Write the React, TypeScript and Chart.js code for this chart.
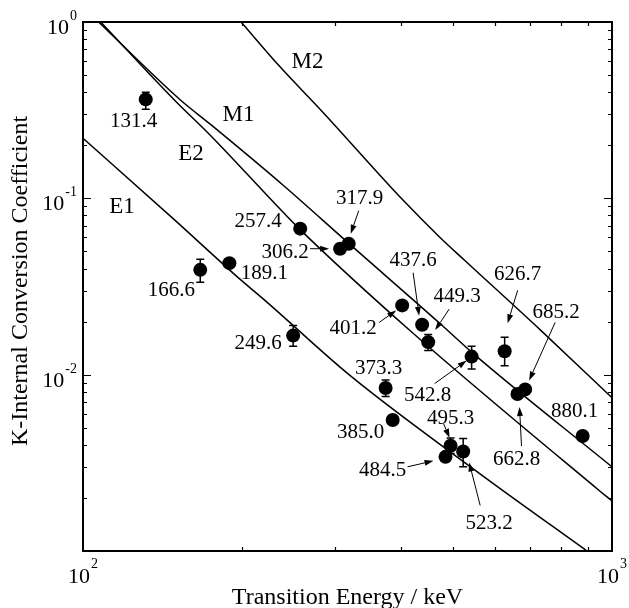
import React, { useEffect, useRef } from 'react';
import { Chart, registerables } from 'chart.js';

Chart.register(...registerables);

// ---------- measured data (K-internal conversion coefficients) ----------
const energies = [131.4, 166.6, 189.1, 249.6, 257.4, 306.2, 317.9, 373.3, 385.0, 401.2, 437.6, 449.3, 484.5, 495.3, 523.2, 542.8, 626.7, 662.8, 685.2, 880.1];
const alphaK = [0.364, 0.0393, 0.0429, 0.01666, 0.0673, 0.0518, 0.0553, 0.0084, 0.00553, 0.0247, 0.0192, 0.0153, 0.00342, 0.00395, 0.00367, 0.01266, 0.01357, 0.00777, 0.00825, 0.00449];
const errLow = [0.32, 0.0334, null, 0.0145, null, null, null, 0.00753, null, null, null, 0.0137, null, 0.00357, 0.0030, 0.01077, 0.01125, null, null, null];
const errHigh = [0.40, 0.0452, null, 0.019, null, null, null, 0.00933, null, null, null, 0.0169, null, 0.00437, 0.00434, 0.01448, 0.0163, null, null, null];
const pointLabels = ['131.4', '166.6', '189.1', '249.6', '257.4', '306.2', '317.9', '373.3', '385.0', '401.2', '437.6', '449.3', '484.5', '495.3', '523.2', '542.8', '626.7', '662.8', '685.2', '880.1'];

// ---------- theoretical curves ----------
const e1Energy = [100, 148.6, 198, 221, 320, 563, 897];
const e1Alpha = [0.219, 0.076, 0.0348, 0.0263, 0.00987, 0.00274, 0.001];
const e2Energy = [108, 149, 174, 239, 257, 415, 948, 1000];
const e2Alpha = [1.0, 0.36, 0.228, 0.0833, 0.0667, 0.0178, 0.00219, 0.00192];
const m1Energy = [107, 153, 174, 239, 318, 473, 544, 1000];
const m1Alpha = [1.0, 0.36, 0.2633, 0.1186, 0.0555, 0.0195, 0.01334, 0.003];
const m2Energy = [199, 236, 282.6, 403, 473, 527, 731, 1000];
const m2Alpha = [1.0, 0.555, 0.313, 0.0974, 0.06, 0.0444, 0.018, 0.0074];

const curveNames = ['E1', 'E2', 'M1', 'M2'];
const curveNameEnergy = [118.5, 160.0, 196.7, 265.7];
const curveNameAlpha = [0.0912, 0.183, 0.305, 0.608];

// ---------- axes ----------
const xTickValues = [100, 1000];
const xTickExponents = ['2', '3'];
const yTickValues = [1, 0.1, 0.01];
const yTickExponents = ['0', '-1', '-2'];
const xMinorTicks = [200, 300, 400, 500, 600, 700, 800, 900];
const yMajorTicks = [0.001, 0.01, 0.1, 1];
const yMinorMantissas = [2, 3, 4, 5, 6, 7, 8, 9];
const xTitle = 'Transition Energy / keV';
const yTitle = 'K-Internal Conversion Coefficient';

// ---------- label layout (pixel offsets of label centre / arrow from the point) ----------
const labelLayout: { dx: number; dy: number; arrow: number[] | null }[] = [
  { dx: -12, dy: 21, arrow: null },
  { dx: -29, dy: 19, arrow: null },
  { dx: 35, dy: 9, arrow: null },
  { dx: -35, dy: 6, arrow: null },
  { dx: -42, dy: -9, arrow: null },
  { dx: -55, dy: 2, arrow: [-30, 0, -11, 0] },
  { dx: 11, dy: -47, arrow: [10, -33, 2, -10] },
  { dx: -7, dy: -21, arrow: null },
  { dx: -32, dy: 11, arrow: null },
  { dx: -49, dy: 21, arrow: [-23, 17, -6, 5] },
  { dx: -9, dy: -66, arrow: [-9, -52, -3, -9] },
  { dx: 29, dy: -47, arrow: [21, -33, 7, -12] },
  { dx: -63, dy: 12, arrow: [-38, 10, -12, 4] },
  { dx: 0, dy: -29, arrow: [-7, -22, -1, -8] },
  { dx: 26, dy: 70, arrow: [17, 54, 6, 11] },
  { dx: -44, dy: 37, arrow: [-37, 27, -5, 4] },
  { dx: 13, dy: -78, arrow: [13, -61, 3, -28] },
  { dx: -1, dy: 64, arrow: [4, 52, 2, 13] },
  { dx: 31, dy: -78, arrow: [30, -67, 4, -9] },
  { dx: -8, dy: -26, arrow: null },
];

const FONT = '"Liberation Serif", "Times New Roman", Times, serif';

function pts(xs: number[], ys: number[]) {
  return xs.map((x, i) => ({ x, y: ys[i] }));
}

function drawArrow(ctx: CanvasRenderingContext2D, x1: number, y1: number, x2: number, y2: number) {
  const ang = Math.atan2(y2 - y1, x2 - x1);
  const head = 9;
  const hw = 3;
  const bx = x2 - head * Math.cos(ang);
  const by = y2 - head * Math.sin(ang);
  ctx.beginPath();
  ctx.moveTo(x1, y1);
  ctx.lineTo(bx, by);
  ctx.lineWidth = 1;
  ctx.stroke();
  ctx.beginPath();
  ctx.moveTo(x2, y2);
  ctx.lineTo(bx + hw * Math.sin(ang), by - hw * Math.cos(ang));
  ctx.lineTo(bx - hw * Math.sin(ang), by + hw * Math.cos(ang));
  ctx.closePath();
  ctx.fill();
}

const overlayPlugin = {
  id: 'overlay',
  beforeDatasetsDraw(chart: any) {
    const ctx: CanvasRenderingContext2D = chart.ctx;
    const xs = chart.scales.x;
    const ys = chart.scales.y;
    ctx.save();
    ctx.strokeStyle = '#000';
    ctx.lineWidth = 1.5;
    energies.forEach((e, i) => {
      const lo = errLow[i];
      const hi = errHigh[i];
      if (lo == null || hi == null) return;
      const px = xs.getPixelForValue(e);
      const pl = ys.getPixelForValue(lo);
      const ph = ys.getPixelForValue(hi);
      ctx.beginPath();
      ctx.moveTo(px, pl);
      ctx.lineTo(px, ph);
      ctx.moveTo(px - 4, pl);
      ctx.lineTo(px + 4, pl);
      ctx.moveTo(px - 4, ph);
      ctx.lineTo(px + 4, ph);
      ctx.stroke();
    });
    ctx.restore();
  },
  afterDraw(chart: any) {
    const ctx: CanvasRenderingContext2D = chart.ctx;
    const xs = chart.scales.x;
    const ys = chart.scales.y;
    const a = chart.chartArea;
    ctx.save();
    ctx.fillStyle = '#000';
    ctx.strokeStyle = '#000';

    // frame
    ctx.lineWidth = 2;
    ctx.strokeRect(a.left, a.top, a.right - a.left, a.bottom - a.top);

    // ticks (inside, mirrored)
    ctx.lineWidth = 1.2;
    ctx.beginPath();
    xMinorTicks.forEach((v) => {
      const p = Math.round(xs.getPixelForValue(v)) + 0.5;
      ctx.moveTo(p, a.bottom);
      ctx.lineTo(p, a.bottom - 4);
      ctx.moveTo(p, a.top);
      ctx.lineTo(p, a.top + 4);
    });
    yMajorTicks.forEach((v) => {
      const p = Math.round(ys.getPixelForValue(v)) + 0.5;
      ctx.moveTo(a.left, p);
      ctx.lineTo(a.left + 8, p);
      ctx.moveTo(a.right, p);
      ctx.lineTo(a.right - 8, p);
      if (v < 1) {
        yMinorMantissas.forEach((m) => {
          const q = Math.round(ys.getPixelForValue(v * m)) + 0.5;
          ctx.moveTo(a.left, q);
          ctx.lineTo(a.left + 4, q);
          ctx.moveTo(a.right, q);
          ctx.lineTo(a.right - 4, q);
        });
      }
    });
    ctx.stroke();

    // tick labels
    const baseFont = '22px ' + FONT;
    const supFont = '14px ' + FONT;
    ctx.textBaseline = 'alphabetic';
    ctx.textAlign = 'left';
    yTickValues.forEach((v, i) => {
      const p = ys.getPixelForValue(v);
      ctx.font = supFont;
      const wE = ctx.measureText(yTickExponents[i]).width;
      ctx.font = baseFont;
      const wB = ctx.measureText('10').width;
      const right = a.left - 6;
      ctx.fillText('10', right - wE - 1 - wB, p + 12);
      ctx.font = supFont;
      ctx.fillText(yTickExponents[i], right - wE, p - 2);
    });
    xTickValues.forEach((v, i) => {
      const p = xs.getPixelForValue(v);
      ctx.font = supFont;
      const wE = ctx.measureText(xTickExponents[i]).width;
      ctx.font = baseFont;
      const wB = ctx.measureText('10').width;
      const left = p - (wB + 1 + wE) / 2;
      ctx.fillText('10', left, a.bottom + 32);
      ctx.font = supFont;
      ctx.fillText(xTickExponents[i], left + wB + 1, a.bottom + 17);
    });

    // axis titles
    ctx.font = '24px ' + FONT;
    ctx.textAlign = 'center';
    ctx.fillText(xTitle, (a.left + a.right) / 2, 604);
    ctx.save();
    ctx.translate(27, 281);
    ctx.rotate(-Math.PI / 2);
    ctx.fillText(yTitle, 0, 0);
    ctx.restore();

    // curve names
    ctx.font = '23px ' + FONT;
    curveNames.forEach((n, i) => {
      const px = xs.getPixelForValue(curveNameEnergy[i]);
      const py = ys.getPixelForValue(curveNameAlpha[i]);
      ctx.fillText(n, px, py + 0.33 * 23);
    });

    // point labels + arrows
    ctx.font = '21px ' + FONT;
    energies.forEach((e, i) => {
      const px = xs.getPixelForValue(e);
      const py = ys.getPixelForValue(alphaK[i]);
      const L = labelLayout[i];
      ctx.fillText(pointLabels[i], px + L.dx, py + L.dy + 0.338 * 21);
      if (L.arrow) {
        const [x1, y1, x2, y2] = L.arrow;
        drawArrow(ctx, px + x1, py + y1, px + x2, py + y2);
      }
    });
    ctx.restore();
  },
};

export default function App() {
  const ref = useRef<HTMLCanvasElement | null>(null);
  useEffect(() => {
    if (!ref.current) return;
    const curve = (xs: number[], ys: number[]) => ({
      type: 'line' as const,
      data: pts(xs, ys),
      showLine: true,
      borderColor: '#000',
      borderWidth: 1.5,
      pointRadius: 0,
      fill: false,
      cubicInterpolationMode: 'monotone' as const,
    });
    const chart = new Chart(ref.current, {
      type: 'scatter',
      data: {
        datasets: [
          curve(e1Energy, e1Alpha),
          curve(e2Energy, e2Alpha),
          curve(m1Energy, m1Alpha),
          curve(m2Energy, m2Alpha),
          {
            type: 'scatter',
            data: pts(energies, alphaK),
            pointRadius: 7,
            pointHoverRadius: 7,
            backgroundColor: '#000',
            borderColor: '#000',
            borderWidth: 0,
          } as any,
        ],
      },
      options: {
        animation: false,
        responsive: false,
        maintainAspectRatio: false,
        devicePixelRatio: 1,
        layout: { padding: { left: 83, right: 17, top: 22, bottom: 57 } },
        scales: {
          x: { type: 'logarithmic', min: 100, max: 1000, display: false },
          y: { type: 'logarithmic', min: 0.001, max: 1, display: false },
        },
        plugins: { legend: { display: false }, tooltip: { enabled: false } },
        events: [],
      },
      plugins: [overlayPlugin],
    } as any);
    return () => chart.destroy();
  }, []);
  return (
    <div style={{ position: 'fixed', left: 0, top: 0, width: 629, height: 608, background: '#fff' }}>
      <canvas ref={ref} width={629} height={608} style={{ display: 'block' }} />
    </div>
  );
}
